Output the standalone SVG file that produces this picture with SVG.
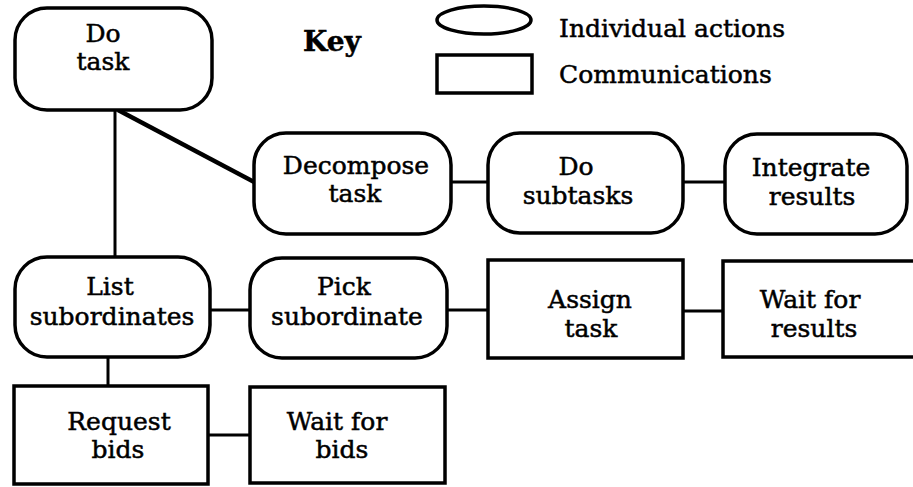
<svg xmlns="http://www.w3.org/2000/svg" width="913" height="487" viewBox="0 0 913 487">
  <style>
    .act { fill: #fff; stroke: #000; stroke-width: 3.5; }
    .com { fill: #fff; stroke: #000; stroke-width: 3.5; }
    .lbl { font-family: "DejaVu Serif", "Liberation Serif", serif; font-size: 25px; fill: #000; stroke: #000; stroke-width: 0.5; text-anchor: middle; }
    .key { font-family: "DejaVu Serif", "Liberation Serif", serif; font-size: 25px; fill: #000; stroke: #000; stroke-width: 0.5; }
    .conn line { stroke: #000; stroke-width: 3; }
  </style>
  <rect width="913" height="487" fill="#fff"/>

  <!-- connectors -->
  <g id="connectors" class="conn">
    <line x1="115" y1="110" x2="115" y2="257"/>
    <line x1="118" y1="110" x2="258" y2="184" style="stroke-width:4.5"/>
    <line x1="451" y1="182" x2="488" y2="182"/>
    <line x1="683" y1="182" x2="725" y2="182"/>
    <line x1="210" y1="310" x2="250" y2="310"/>
    <line x1="447" y1="310" x2="488" y2="310"/>
    <line x1="683" y1="311" x2="723" y2="311"/>
    <line x1="108" y1="357" x2="108" y2="386"/>
    <line x1="208" y1="435" x2="250" y2="435"/>
  </g>

  <!-- legend -->
  <g id="legend">
    <text x="303" y="51" class="key" style="font-weight:bold;font-size:28px">Key</text>
    <ellipse cx="484" cy="20" rx="47" ry="14" class="act"/>
    <rect x="437" y="55" width="95" height="38" class="com"/>
    <text x="559" y="37" class="key">Individual actions</text>
    <text x="559" y="83" class="key">Communications</text>
  </g>

  <!-- individual actions -->
  <g id="do-task">
    <rect x="15" y="8" width="197" height="102" rx="32" class="act"/>
    <text class="lbl"><tspan x="103" y="42">Do</tspan><tspan x="103" y="70">task</tspan></text>
  </g>
  <g id="decompose-task">
    <rect x="254" y="133" width="197" height="101" rx="32" class="act"/>
    <text class="lbl"><tspan x="356" y="174">Decompose</tspan><tspan x="355" y="202">task</tspan></text>
  </g>
  <g id="do-subtasks">
    <rect x="488" y="133" width="195" height="100" rx="32" class="act"/>
    <text class="lbl"><tspan x="576" y="175">Do</tspan><tspan x="578" y="204">subtasks</tspan></text>
  </g>
  <g id="integrate-results">
    <rect x="725" y="134" width="182" height="100" rx="32" class="act"/>
    <text class="lbl"><tspan x="811" y="176">Integrate</tspan><tspan x="812" y="205">results</tspan></text>
  </g>
  <g id="list-subordinates">
    <rect x="15" y="257" width="195" height="100" rx="32" class="act"/>
    <text class="lbl"><tspan x="110" y="295">List</tspan><tspan x="112" y="325">subordinates</tspan></text>
  </g>
  <g id="pick-subordinate">
    <rect x="250" y="258" width="197" height="100" rx="32" class="act"/>
    <text class="lbl"><tspan x="344" y="295">Pick</tspan><tspan x="347" y="325">subordinate</tspan></text>
  </g>

  <!-- communications -->
  <g id="assign-task">
    <rect x="488" y="260" width="195" height="98" class="com"/>
    <text class="lbl"><tspan x="590" y="308">Assign</tspan><tspan x="591" y="337">task</tspan></text>
  </g>
  <g id="wait-for-results">
    <rect x="723" y="261" width="200" height="96" class="com"/>
    <text class="lbl"><tspan x="810" y="308">Wait for</tspan><tspan x="814" y="337">results</tspan></text>
  </g>
  <g id="request-bids">
    <rect x="14" y="386" width="194" height="98" class="com"/>
    <text class="lbl"><tspan x="119" y="430">Request</tspan><tspan x="118" y="458">bids</tspan></text>
  </g>
  <g id="wait-for-bids">
    <rect x="250" y="387" width="195" height="96" class="com"/>
    <text class="lbl"><tspan x="337" y="430">Wait for</tspan><tspan x="342" y="458">bids</tspan></text>
  </g>
</svg>
